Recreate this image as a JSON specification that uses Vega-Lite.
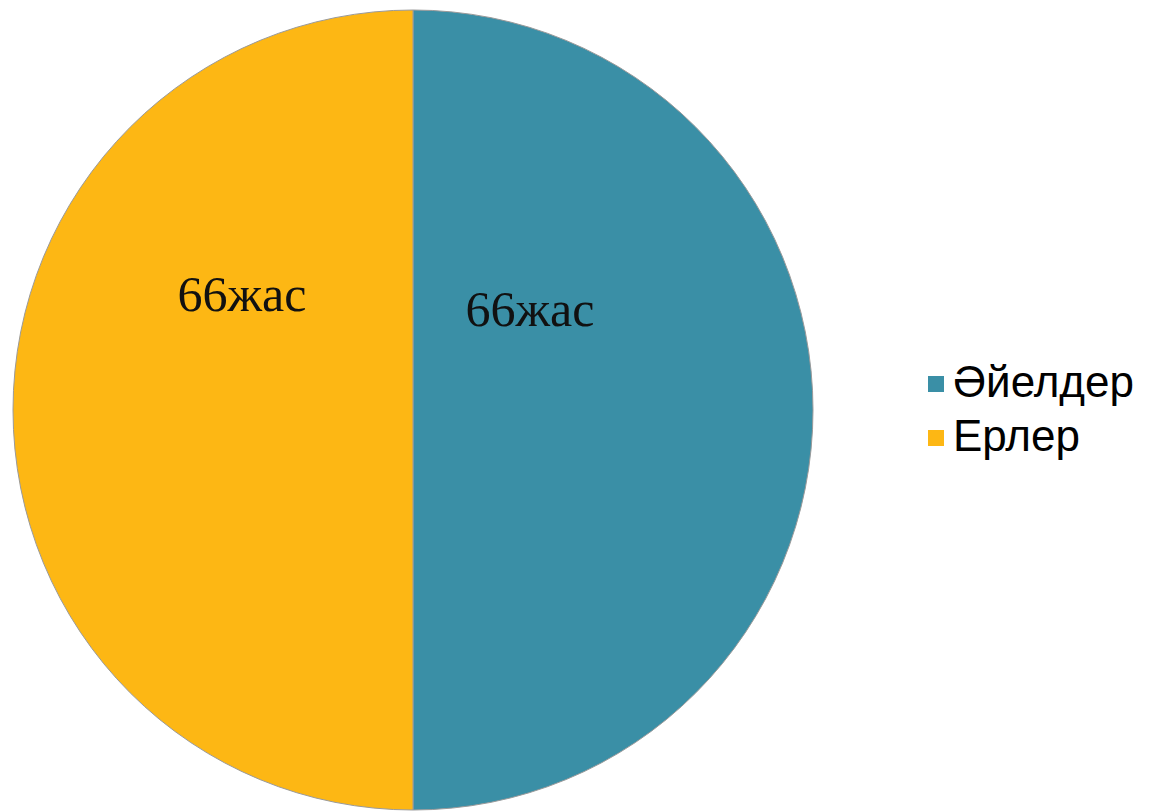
{
  "$schema": "https://vega.github.io/schema/vega-lite/v6.json",
  "width": 800,
  "height": 800,
  "autosize": {"type": "none"},
  "padding": {"left": 13, "top": 10, "right": 344, "bottom": 1},
  "background": "white",
  "data": {"values": [
    {"sex": "Әйелдер", "age": 66, "label": "66жас"},
    {"sex": "Ерлер", "age": 66, "label": "66жас"}
  ]},
  "encoding": {
    "theta": {"field": "age", "type": "quantitative", "stack": true},
    "order": {"field": "sex", "sort": "descending"}
  },
  "layer": [
    {
      "mark": {"type": "arc", "stroke": "#9a9a9a", "strokeWidth": 1},
      "encoding": {
        "color": {
          "field": "sex", "type": "nominal",
          "scale": {"domain": ["Әйелдер", "Ерлер"], "range": ["#3A8FA6", "#FDB714"]},
          "legend": {
            "title": null, "orient": "none", "legendX": 901, "legendY": 352,
            "symbolType": "square", "symbolSize": 256, "symbolStrokeWidth": 0,
            "labelFont": "Liberation Sans", "labelFontSize": 44, "labelColor": "#000",
            "labelOffset": -5, "rowPadding": 10, "labelLimit": 400
          }
        }
      }
    },
    {
      "mark": {"type": "text", "radius": 117, "dy": -99, "font": "Liberation Serif", "fontSize": 50, "color": "#111", "baseline": "middle", "align": "center"},
      "encoding": {
        "text": {"condition": {"test": "datum.sex === 'Әйелдер'", "field": "label"}, "value": ""}
      }
    },
    {
      "mark": {"type": "text", "radius": 171, "dy": -114, "font": "Liberation Serif", "fontSize": 50, "color": "#111", "baseline": "middle", "align": "center"},
      "encoding": {
        "text": {"condition": {"test": "datum.sex === 'Ерлер'", "field": "label"}, "value": ""}
      }
    }
  ]
}
